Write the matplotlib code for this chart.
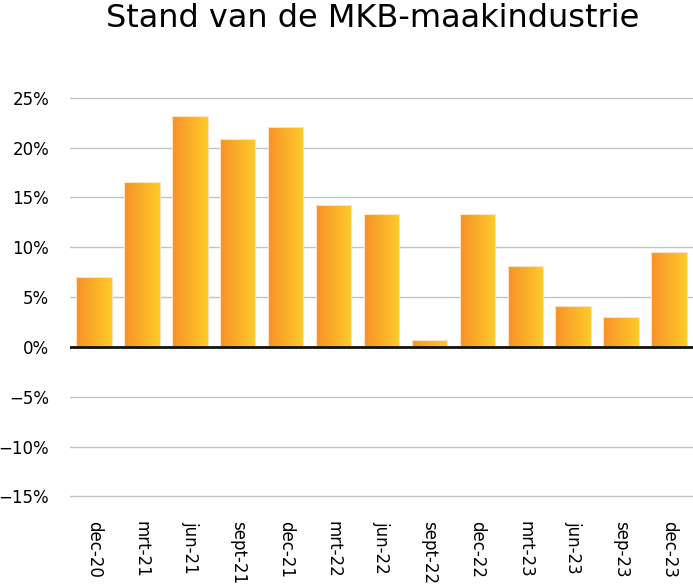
import numpy as np
import matplotlib.pyplot as plt
from matplotlib.colors import LinearSegmentedColormap
from matplotlib.ticker import FuncFormatter

periods = ["dec-20", "mrt-21", "jun-21", "sept-21", "dec-21", "mrt-22", "jun-22",
           "sept-22", "dec-22", "mrt-23", "jun-23", "sep-23", "dec-23"]
stand = [7.0, 16.6, 23.2, 20.9, 22.1, 14.2, 13.3, 0.7, 13.3, 8.1, 4.1, 3.0, 9.5]
yticks = [-15, -10, -5, 0, 5, 10, 15, 20, 25]

fig = plt.figure(figsize=(6.93, 5.85), dpi=100)
# axes bottom sits a hair under -15% so that gridline stays visible
ax = fig.add_axes([0.101, 0.148, 0.899, 0.770])

x = np.arange(len(periods))
bars = ax.bar(x, stand, width=0.74, color="none", edgecolor="#fde3c0", linewidth=0.8, zorder=3)

# horizontal orange -> yellow gradient in every bar
cmap = LinearSegmentedColormap.from_list("oy", ["#f7922a", "#ffcb27"])
grad = np.linspace(0, 1, 64).reshape(1, -1)
for b in bars:
    x0, w, h = b.get_x(), b.get_width(), b.get_height()
    im = ax.imshow(grad, cmap=cmap, aspect="auto", extent=(x0, x0 + w, 0, h),
                   zorder=2, interpolation="bicubic")
    im.set_clip_path(b)

ax.set_xlim(-0.5, len(periods) - 0.5)
ax.set_ylim(-15.2, 30)
ax.set_yticks(yticks)
ax.yaxis.set_major_formatter(FuncFormatter(lambda v, p: f"{v:.0f}%".replace("-", "\u2212")))
ax.set_xticks(x)
ax.set_xticklabels(periods, rotation=270, fontsize=12)
ax.tick_params(axis="y", labelsize=12, length=0, pad=15)
ax.tick_params(axis="x", length=0, pad=16)
ax.grid(axis="y", color="#c4c4c4", linewidth=1, zorder=0)
ax.set_axisbelow(True)
for s in ax.spines.values():
    s.set_visible(False)
ax.axhline(0, color="#111111", linewidth=2, zorder=4)

fig.text(0.538, 0.995, "Stand van de MKB-maakindustrie", fontsize=23, ha="center", va="top")
fig.savefig("out.png", dpi=100)
